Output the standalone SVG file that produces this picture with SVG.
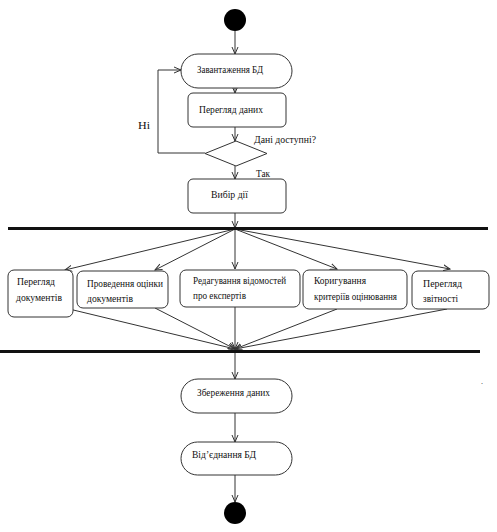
<svg xmlns="http://www.w3.org/2000/svg" width="497" height="532" viewBox="0 0 497 532">
<style>
.n{fill:#fff;stroke:#333;stroke-width:1}
.t{font-family:"Liberation Serif",serif;font-size:10px;fill:#111}
.c{fill:none;stroke:#333;stroke-width:1;marker-end:url(#a)}
.bar{stroke:#111;stroke-width:3}
</style>
<defs>
<marker id="a" markerWidth="8" markerHeight="8" refX="7" refY="4" orient="auto" markerUnits="userSpaceOnUse">
<path d="M0,1 L7,4 L0,7" fill="none" stroke="#333" stroke-width="1"/>
</marker>
</defs>
<rect width="497" height="532" fill="#fff"/>
<g id="connectors">
<line class="c" x1="235" y1="31" x2="235" y2="54"/>
<line class="c" x1="235" y1="88" x2="235" y2="93"/>
<line class="c" x1="235" y1="127" x2="235" y2="141"/>
<polyline class="c" points="205,153 158,153 158,70 181,70"/>
<line class="c" x1="235" y1="166" x2="235" y2="179"/>
<line class="c" x1="235" y1="213" x2="235" y2="228"/>
<line class="c" x1="235" y1="229" x2="65" y2="270"/>
<line class="c" x1="235" y1="229" x2="155" y2="270"/>
<line class="c" x1="235" y1="229" x2="235" y2="269"/>
<line class="c" x1="235" y1="229" x2="337" y2="269"/>
<line class="c" x1="235" y1="229" x2="450" y2="269"/>
<line class="c" x1="65" y1="308" x2="235" y2="349"/>
<line class="c" x1="155" y1="308" x2="235" y2="349"/>
<line class="c" x1="235" y1="307" x2="235" y2="349"/>
<line class="c" x1="337" y1="309" x2="235" y2="349"/>
<line class="c" x1="447" y1="309" x2="235" y2="349"/>
<line class="c" x1="235" y1="352" x2="235" y2="379"/>
<line class="c" x1="235" y1="413" x2="235" y2="442"/>
<line class="c" x1="235" y1="475" x2="235" y2="502"/>
</g>
<g id="start"><circle cx="235" cy="20" r="11" fill="#000"/></g>
<g id="load"><rect class="n" x="181" y="54" width="111" height="34" rx="17"/><text class="t" x="197" y="73" textLength="66" lengthAdjust="spacingAndGlyphs">Завантаження БД</text></g>
<g id="view"><rect class="n" x="188" y="93" width="98" height="34" rx="5"/><text class="t" x="199" y="113" textLength="64" lengthAdjust="spacingAndGlyphs">Перегляд даних</text></g>
<g id="decision"><polygon class="n" points="236,141 267,153.5 236,166 205,153.5"/>
<text class="t" x="254" y="143" textLength="62" lengthAdjust="spacingAndGlyphs">Дані доступні?</text>
<text class="t" x="138" y="129" textLength="12" lengthAdjust="spacingAndGlyphs">Ні</text>
<text class="t" x="256" y="177" textLength="14" lengthAdjust="spacingAndGlyphs">Так</text></g>
<g id="choose"><rect class="n" x="188" y="179" width="98" height="34" rx="5"/><text class="t" x="211" y="198" textLength="37" lengthAdjust="spacingAndGlyphs">Вибір дії</text></g>
<g id="fork"><line class="bar" x1="8" y1="228.5" x2="488" y2="228.5"/></g>
<g id="b1"><rect class="n" x="8" y="270" width="65" height="47" rx="6"/><text class="t" x="17" y="285" textLength="38" lengthAdjust="spacingAndGlyphs">Перегляд</text><text class="t" x="16" y="301" textLength="46" lengthAdjust="spacingAndGlyphs">документів</text></g>
<g id="b2"><rect class="n" x="77" y="271" width="91" height="37" rx="6"/><text class="t" x="87" y="287" textLength="76" lengthAdjust="spacingAndGlyphs">Проведення оцінки</text><text class="t" x="87" y="302" textLength="46" lengthAdjust="spacingAndGlyphs">документів</text></g>
<g id="b3"><rect class="n" x="180" y="270" width="120" height="37" rx="6"/><text class="t" x="193" y="284" textLength="93" lengthAdjust="spacingAndGlyphs">Редагування відомостей</text><text class="t" x="193" y="299" textLength="53" lengthAdjust="spacingAndGlyphs">про експертів</text></g>
<g id="b4"><rect class="n" x="303" y="270" width="104" height="39" rx="6"/><text class="t" x="314" y="284" textLength="52" lengthAdjust="spacingAndGlyphs">Коригування</text><text class="t" x="314" y="300" textLength="83" lengthAdjust="spacingAndGlyphs">критеріїв оцінювання</text></g>
<g id="b5"><rect class="n" x="412" y="271" width="77" height="38" rx="6"/><text class="t" x="423" y="287" textLength="39" lengthAdjust="spacingAndGlyphs">Перегляд</text><text class="t" x="423" y="302" textLength="35" lengthAdjust="spacingAndGlyphs">звітності</text></g>
<g id="join"><line class="bar" x1="0" y1="351.5" x2="480" y2="351.5"/></g>
<g id="save"><rect class="n" x="181" y="379" width="111" height="34" rx="17"/><text class="t" x="197" y="396" textLength="73" lengthAdjust="spacingAndGlyphs">Збереження даних</text></g>
<g id="disconnect"><rect class="n" x="181" y="442" width="111" height="33" rx="16.5"/><text class="t" x="192" y="458" textLength="64" lengthAdjust="spacingAndGlyphs">Від’єднання БД</text></g>
<g id="end"><circle cx="235" cy="513" r="11" fill="#000"/></g>
<text class="t" x="481" y="384" style="font-size:8px">.</text>
</svg>
